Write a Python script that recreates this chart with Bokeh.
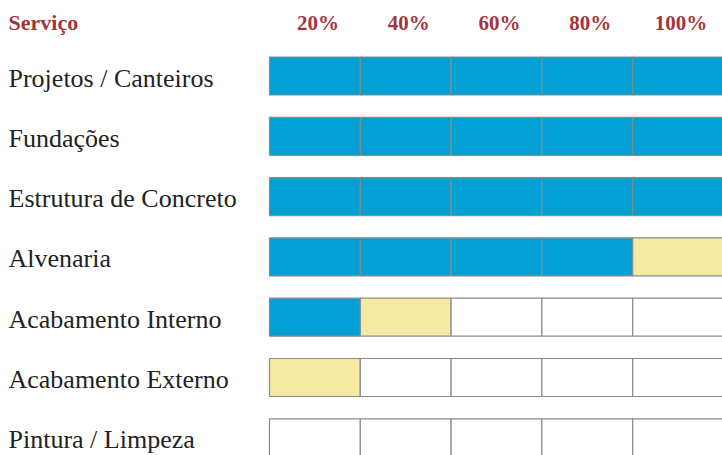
from bokeh.plotting import figure
from bokeh.models import Range1d, ColumnDataSource
from bokeh.core.properties import value
from bokeh.embed import file_html
from bokeh.resources import INLINE

servicos = ["Projetos / Canteiros", "Fundações", "Estrutura de Concreto", "Alvenaria",
            "Acabamento Interno", "Acabamento Externo", "Pintura / Limpeza"]
concluido = [100, 100, 100, 80, 20, 0, 0]
em_andamento = [0, 0, 0, 20, 20, 20, 0]
etapas = [20, 40, 60, 80, 100]
rotulos_etapas = ["20%", "40%", "60%", "80%", "100%"]
titulo = "Serviço"

AZUL = "#00a0d4"
AMARELO = "#f5e9a3"
BRANCO = "#ffffff"
BORDA = "#8a8a8a"
VERMELHO = "#a3353b"

W, H = 722, 455
x0_px, cell_px = 269, 90.8
px_per_unit = cell_px / 20.0
row0_px, row_pitch = 75.5, 60.3

p = figure(width=W, height=H, output_backend="svg", toolbar_location=None,
           x_range=Range1d(-x0_px / px_per_unit, (W - x0_px) / px_per_unit),
           y_range=Range1d((H - row0_px) / row_pitch, -row0_px / row_pitch),
           min_border=0)
p.axis.visible = False
p.grid.visible = False
p.outline_line_color = None
p.background_fill_color = "white"
p.border_fill_color = "white"

left, right, top, bottom, color = [], [], [], [], []
for i, (c, a) in enumerate(zip(concluido, em_andamento)):
    prev = 0
    for e in etapas:
        if e <= c:
            col = AZUL
        elif e <= c + a:
            col = AMARELO
        else:
            col = BRANCO
        left.append(prev)
        right.append(e)
        top.append(i - 0.315)
        bottom.append(i + 0.315)
        color.append(col)
        prev = e

src = ColumnDataSource(dict(left=left, right=right, top=top, bottom=bottom, color=color))
p.quad(left="left", right="right", top="top", bottom="bottom", fill_color="color",
       line_color=BORDA, line_width=1.2, source=src)

label_x = -x0_px / px_per_unit
p.text(x=[label_x] * len(servicos), y=list(range(len(servicos))), text=servicos,
       x_offset=8, y_offset=2, text_baseline="middle", text_align="left",
       text_font=value("Liberation Serif"), text_font_size="26px", text_color="#222222")

hy = -53.5 / row_pitch
p.text(x=[label_x], y=[hy], text=[titulo], x_offset=8, text_baseline="middle",
       text_align="left", text_font=value("Liberation Serif"), text_font_size="22px",
       text_font_style="bold", text_color=VERMELHO)
centers = [e - 10 for e in etapas]
p.text(x=centers, y=[hy] * len(etapas), text=rotulos_etapas, x_offset=3,
       text_baseline="middle", text_align="center", text_font=value("Liberation Serif"),
       text_font_size="21px", text_font_style="bold", text_color=VERMELHO)

open("out.html", "w").write(file_html(p, INLINE))
